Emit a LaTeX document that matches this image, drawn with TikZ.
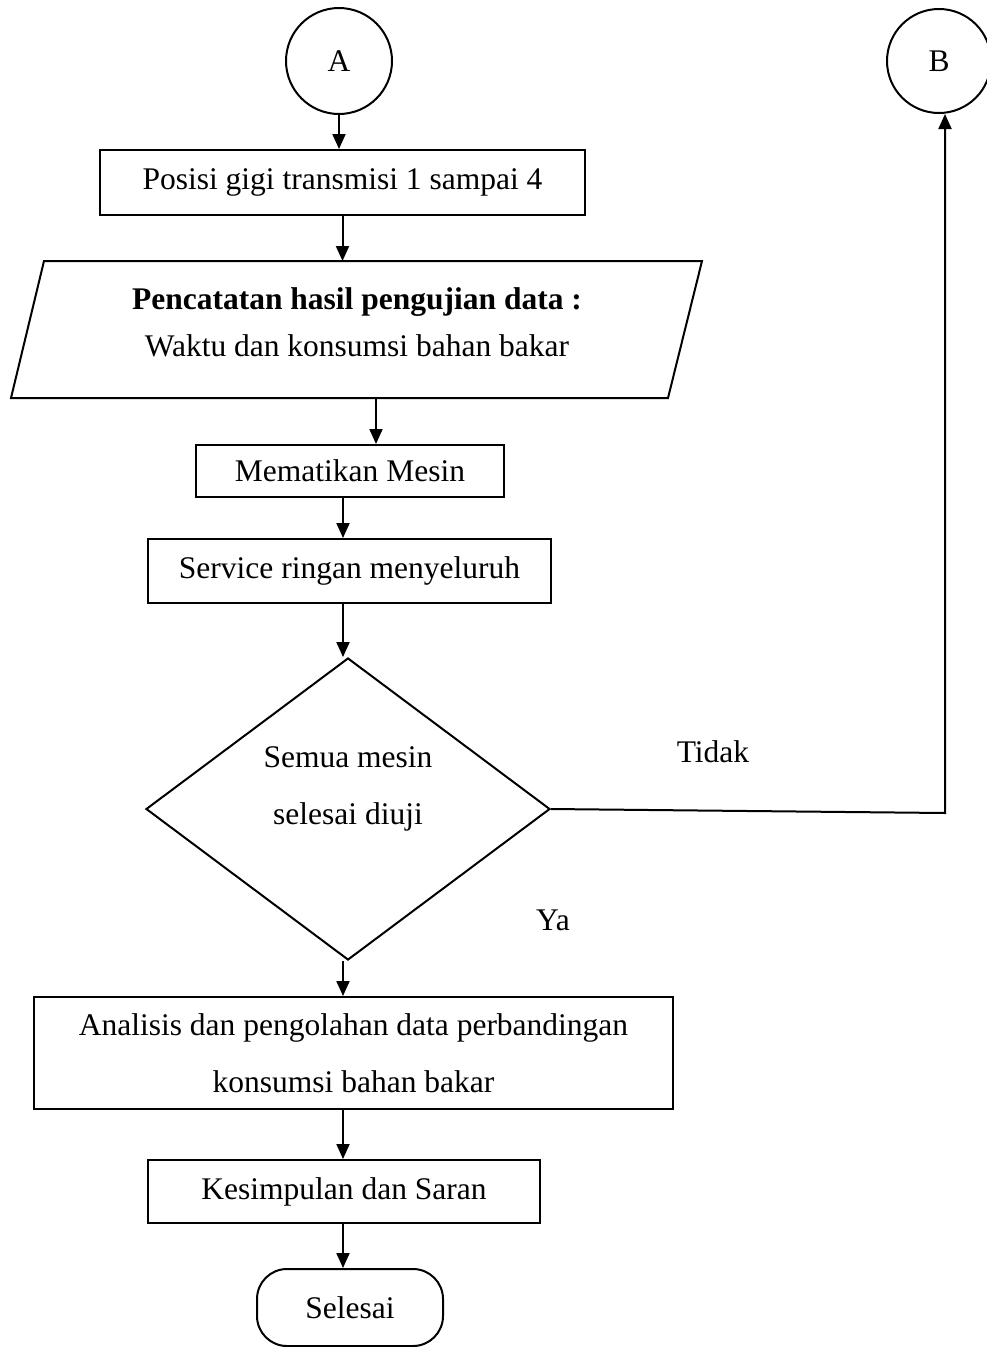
\documentclass[tikz,border=0pt]{standalone}
\usepackage{fontspec}
\setmainfont{Liberation Serif}
\usetikzlibrary{arrows.meta,shapes.geometric,calc}
\begin{document}
\begin{tikzpicture}[x=1pt,y=-1pt,
  every node/.style={font=\fontsize{31.5}{37}\selectfont},
  box/.style={draw, rectangle, line width=2pt, inner sep=0pt},
  conn/.style={draw, circle, line width=2pt, inner sep=0pt},
  arr/.style={line width=2pt, -{Triangle[length=15pt,width=13pt]}},
  ln/.style={line width=2pt}]
\useasboundingbox (0,0) rectangle (987,1347);
\fill[white] (0,0) rectangle (987,1347);
\coordinate (axis) at (343,0);
% connectors
\node[conn, minimum size=106] (A) at (339,61) {A};
\node[conn, minimum size=104] (B) at (939,61) {B};
% box 1
\node[box, minimum width=485, minimum height=65] (b1) at (342.5,182.5) {Posisi gigi transmisi 1 sampai 4};
% parallelogram
\coordinate (P1) at (44,261);
\coordinate (P2) at (702,261);
\coordinate (P3) at (668,398);
\coordinate (P4) at (11,398);
\draw[ln, line join=miter] (P1) -- (P2) -- (P3) -- (P4) -- cycle;
\coordinate (Ptop) at (342.5,261);
\coordinate (Pbot) at (376,398);
\node[align=center, font=\fontsize{31.5}{47}\selectfont] (ptext) at (357,322.5)
  {\textbf{Pencatatan hasil pengujian data :}\\Waktu dan konsumsi bahan bakar};
% boxes
\node[box, minimum width=308, minimum height=52] (m) at (350,471) {Mematikan Mesin};
\node[box, minimum width=403, minimum height=64] (s) at (349.5,571) {Service ringan menyeluruh};
% decision
\node[draw, diamond, line width=2pt, inner sep=0pt, minimum width=404, minimum height=302] (D) at (348,809) {};
\node[align=center, font=\fontsize{31.5}{57}\selectfont] (Dt) at (348,788.5) {Semua mesin\\selesai diuji};
\node[box, minimum width=639, minimum height=112, align=center, font=\fontsize{31.5}{57}\selectfont] (an) at (353.5,1053)
  {Analisis dan pengolahan data perbandingan\\konsumsi bahan bakar};
\node[box, minimum width=392, minimum height=63] (k) at (344,1191.5) {Kesimpulan dan Saran};
\node[draw, line width=2pt, rectangle, rounded corners=30pt, inner sep=0pt, minimum width=186, minimum height=77] (end) at (350,1307.5) {Selesai};
% labels
\node (tidak) at (713,752) {Tidak};
\node (ya) at (553,920) {Ya};
% arrows
\draw[arr] (A.south) -- (A.south |- b1.north);
\draw[arr] (b1.south) -- (Ptop);
\draw[arr] (Pbot) -- (Pbot |- m.north);
\draw[arr] (m.south -| axis) -- (s.north -| axis);
\draw[arr] (s.south -| axis) -- (D.north -| axis);
\draw[arr] (D.south -| axis) -- (an.north -| axis);
\draw[arr] (an.south -| axis) -- (k.north -| axis);
\draw[arr] (k.south -| axis) -- (end.north -| axis);
\coordinate (corner) at (945,813);
\draw[arr, line join=miter] (D.east) -- (corner) -- (corner |- B.south);
\end{tikzpicture}
\end{document}
